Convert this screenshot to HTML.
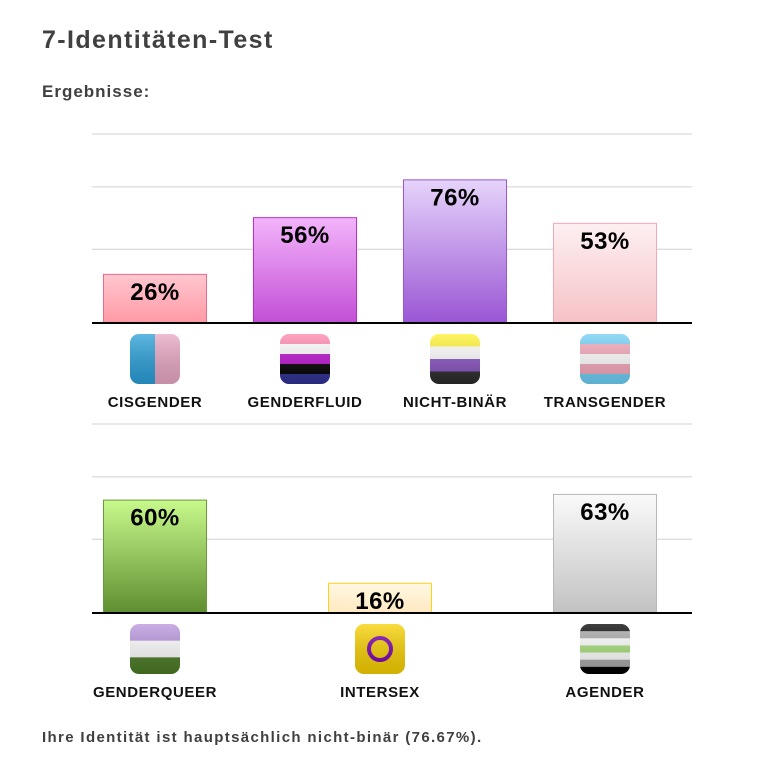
<!DOCTYPE html>
<html><head><meta charset="utf-8">
<style>
body{margin:0;width:765px;height:759px;background:#fff;font-family:"Liberation Sans",sans-serif;color:#404040;position:relative;overflow:hidden}
.t{position:absolute;left:42px;font-weight:bold;margin:0;white-space:nowrap}
</style></head><body>
<h1 class="t" style="top:26px;font-size:25px;letter-spacing:1.4px">7-Identitäten-Test</h1>
<h2 class="t" style="top:82px;font-size:17px;letter-spacing:1px">Ergebnisse:</h2>
<svg id="chart" width="765" height="720" style="position:absolute;left:0;top:0"></svg>
<p class="t" style="top:729px;font-size:15px;letter-spacing:1.35px">Ihre Identität ist hauptsächlich nicht-binär (76.67%).</p>
<script>
const categories1 = ["CISGENDER","GENDERFLUID","NICHT-BINÄR","TRANSGENDER"];
const values1 = [26,56,76,53];
const categories2 = ["GENDERQUEER","INTERSEX","AGENDER"];
const values2 = [60,16,63];
const gridValues = [100,72,39];

const NS="http://www.w3.org/2000/svg";
const svg=document.getElementById('chart');
function mk(tag,attrs,parent){const e=document.createElementNS(NS,tag);for(const k in attrs)e.setAttribute(k,attrs[k]);(parent||svg).appendChild(e);return e;}

const defs=mk('defs',{});
const styles={
"CISGENDER":{g:["#ffc7d0","#ff9aa6"],s:"#f06b85",flag:[["v","#2a9fd8","#e8a8c4"]]},
"GENDERFLUID":{g:["#f3b4fb","#c24fd6"],s:"#c22ad0",flag:["#ff85ad","#ffffff","#bb12d0","#000000","#2f3194"]},
"NICHT-BINÄR":{g:["#e6d4fb","#9a56d4"],s:"#9a56d4",flag:["#fff231","#ffffff","#8953c2","#2b2b2b"]},
"TRANSGENDER":{g:["#fdf0f2","#f6c2c6"],s:"#f3a6b6",flag:["#6ecff5","#f4a7ba","#ffffff","#f4a7ba","#6ecff5"]},
"GENDERQUEER":{g:["#c8f98c","#5f8e30"],s:"#6b9a3a",flag:["#b894dd","#ffffff","#4a7a24"]},
"INTERSEX":{g:["#fff8e2","#ffe9c2"],s:"#ffd21a",flag:"intersex"},
"AGENDER":{g:["#fafafa","#c2c2c2"],s:"#b8b8b8",flag:["#000000","#a8a8a8","#ffffff","#a7e07a","#ffffff","#a8a8a8","#000000"]}
};
let gid=0;

function drawChart(cats,vals,base,xs){
  const yScale=v=>base-v*1.89;
  gridValues.forEach(g=>{
    const l=mk('line',{x1:92,x2:692,y1:yScale(g),y2:yScale(g),stroke:'#d0d0d0','stroke-width':1});
    
    
  });
  cats.forEach((c,i)=>{
    const st=styles[c];const x=xs[i];const w=104;const v=vals[i];
    const id='g'+(gid++);
    const lg=mk('linearGradient',{id:id,x1:0,y1:0,x2:0,y2:1},defs);
    mk('stop',{offset:0,'stop-color':st.g[0]},lg);mk('stop',{offset:1,'stop-color':st.g[1]},lg);
    const b=mk('rect',{x:x+0.5,y:yScale(v)+0.5,width:w-1,height:v*1.89-1,fill:'url(#'+id+')',stroke:st.s,'stroke-width':1});
    
    
    const t=mk('text',{x:x+w/2,y:yScale(v)+26,'text-anchor':'middle','font-size':24,'font-weight':'bold',fill:'#000','letter-spacing':0.5,'font-family':'Liberation Sans, sans-serif'});
    t.textContent=v+'%';
    
    
    const cx=x+w/2, iy=base+11, s=50;
    const cid='c'+(gid++);
    const cp=mk('clipPath',{id:cid},defs);
    mk('rect',{x:cx-25,y:iy,width:s,height:s,rx:9},cp);
    const ig=mk('g',{'clip-path':'url(#'+cid+')'});
    
    
    if(st.flag==='intersex'){
      mk('rect',{x:cx-25,y:iy,width:s,height:s,fill:'#f7d000'},ig);
      mk('circle',{cx:cx,cy:iy+25,r:11,fill:'none',stroke:'#7a00b0','stroke-width':4},ig);
    } else if(st.flag[0][0]==='v'){
      mk('rect',{x:cx-25,y:iy,width:25,height:s,fill:st.flag[0][1]},ig);
      mk('rect',{x:cx,y:iy,width:25,height:s,fill:st.flag[0][2]},ig);
    } else {
      const h=s/st.flag.length;
      st.flag.forEach((col,k)=>mk('rect',{x:cx-25,y:iy+k*h,width:s,height:h+0.5,fill:col},ig));
    }
    const sh=mk('linearGradient',{id:'s'+cid,x1:0,y1:0,x2:0,y2:1},defs);
    mk('stop',{offset:0,'stop-color':'#fff','stop-opacity':0.25},sh);mk('stop',{offset:1,'stop-color':'#000','stop-opacity':0.15},sh);
    mk('rect',{x:cx-25,y:iy,width:s,height:s,fill:'url(#s'+cid+')'},ig);
    const lb=mk('text',{x:cx,y:base+84,'text-anchor':'middle','font-size':15,'font-weight':'bold',fill:'#111','letter-spacing':0.6,'font-family':'Liberation Sans, sans-serif'});
    lb.textContent=c;
    
    
  });
  const ax=mk('line',{x1:92,x2:692,y1:base,y2:base,stroke:'#000','stroke-width':2});
  
  
}
drawChart(categories1,values1,323,[103,253,403,553]);
drawChart(categories2,values2,613,[103,328,553]);
</script>
</body></html>
